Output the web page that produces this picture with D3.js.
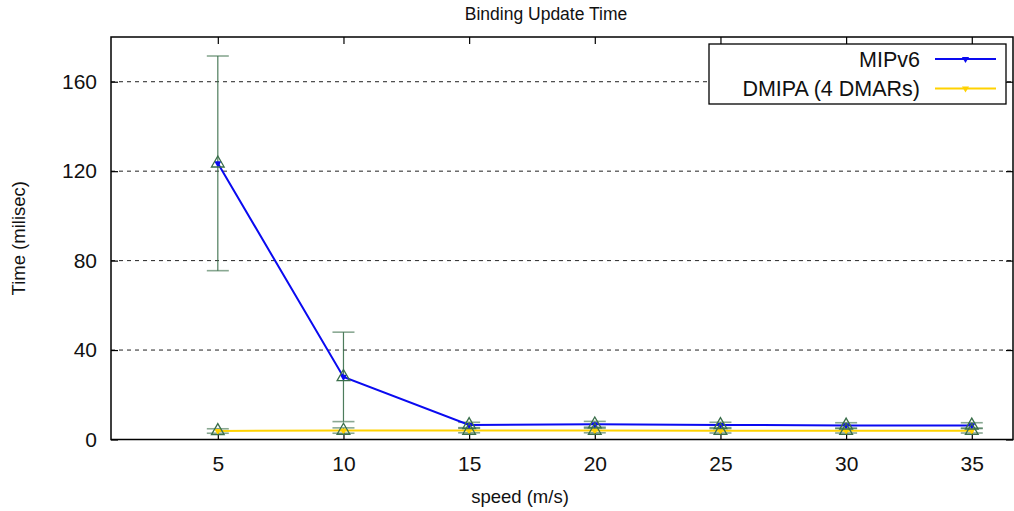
<!DOCTYPE html>
<html>
<head>
<meta charset="utf-8">
<script src="https://cdn.jsdelivr.net/npm/d3@7"></script>
<style>
  html, body { margin: 0; padding: 0; background: #fff; }
  svg { display: block; font-family: "Liberation Sans", Arial, Helvetica, sans-serif; }
</style>
</head>
<body>
<svg id="chart" width="1014" height="511"></svg>
<script>
// Mobile node speed (m/s)
const speeds = [5, 10, 15, 20, 25, 30, 35];
// Mean binding update time (ms) and error bar half-widths
const mipv6 = [123.5, 28, 6.5, 6.8, 6.5, 6.3, 6.3];
const mipv6Err = [48, 20, 1.2, 1.3, 1.2, 1.2, 1.2];
const dmipa = [3.8, 4.0, 4.0, 4.0, 3.9, 3.9, 3.9];
const dmipaErr = [1.0, 1.2, 1.0, 1.0, 1.0, 1.0, 1.0];
const yTicks = [0, 40, 80, 120, 160];
const seriesNames = ["MIPv6", "DMIPA (4 DMARs)"];

const svg = d3.select("#chart");
const m = { left: 111, right: 1013, top: 37, bottom: 439.5 };

const x = d3.scaleLinear().domain([0.75, 36.64]).range([m.left, m.right]);
const y = d3.scaleLinear().domain([0, 180]).range([m.bottom, m.top]);

const errColor = "#3a6e4a";
const series = [
  { name: seriesNames[0], vals: mipv6, err: mipv6Err, color: "#0a0af0" },
  { name: seriesNames[1], vals: dmipa, err: dmipaErr, color: "#ffd200" }
];

const tickFont = 21;
const legendFont = 21.5;
const titleFont = 17.5;
const axisTitleFont = 18.5;

// dashed horizontal grid
svg.append("g").selectAll("line")
  .data(yTicks.filter(d => d > 0))
  .join("line")
  .attr("x1", m.left).attr("x2", m.right)
  .attr("y1", d => y(d)).attr("y2", d => y(d))
  .attr("stroke", "#222").attr("stroke-width", 1)
  .attr("stroke-dasharray", "4,4");

// axes with inward ticks (mirrored on opposite sides)
const axB = svg.append("g").attr("transform", `translate(0,${m.bottom})`)
  .call(d3.axisBottom(x).tickValues(speeds).tickSize(-7).tickPadding(19));
const axT = svg.append("g").attr("transform", `translate(0,${m.top})`)
  .call(d3.axisTop(x).tickValues(speeds).tickSize(-7).tickFormat(""));
const axL = svg.append("g").attr("transform", `translate(${m.left},0)`)
  .call(d3.axisLeft(y).tickValues(yTicks).tickSize(-7).tickPadding(14));
const axR = svg.append("g").attr("transform", `translate(${m.right},0)`)
  .call(d3.axisRight(y).tickValues(yTicks).tickSize(-7).tickFormat(""));
[axB, axT, axL, axR].forEach(g => {
  g.select(".domain").remove();
  g.selectAll(".tick line").attr("stroke", "#000").attr("stroke-width", 1.2);
  g.selectAll("text").attr("font-size", tickFont).attr("fill", "#111")
    .attr("font-family", "'Liberation Sans', Arial, sans-serif");
});
axB.selectAll("text").attr("dy", "0.6em");

// plot frame
svg.append("rect")
  .attr("x", m.left).attr("y", m.top)
  .attr("width", m.right - m.left).attr("height", m.bottom - m.top)
  .attr("fill", "none").attr("stroke", "#000").attr("stroke-width", 1.5);

// error bars
const capW = 11;
series.forEach(s => {
  const g = svg.append("g").attr("stroke", errColor);
  speeds.forEach((sp, i) => {
    const cx = x(sp), lo = y(s.vals[i] - s.err[i]), hi = y(s.vals[i] + s.err[i]);
    g.append("line").attr("x1", cx).attr("x2", cx).attr("y1", lo).attr("y2", hi)
      .attr("stroke-width", 1.2).attr("stroke-opacity", 0.9);
    [lo, hi].forEach(yy => g.append("line")
      .attr("x1", cx - capW).attr("x2", cx + capW).attr("y1", yy).attr("y2", yy)
      .attr("stroke-width", 1.6).attr("stroke-opacity", 0.6));
  });
});

// series lines with small filled down triangles
const line = d3.line().x((d, i) => x(speeds[i])).y(d => y(d));
const downTri = d3.symbol().type(d3.symbolTriangle).size(22);
series.forEach(s => {
  svg.append("path").datum(s.vals)
    .attr("d", line).attr("fill", "none")
    .attr("stroke", s.color).attr("stroke-width", 2);
  svg.append("g").selectAll("path").data(s.vals).join("path")
    .attr("d", downTri)
    .attr("transform", (d, i) => `translate(${x(speeds[i])},${y(d)}) rotate(180)`)
    .attr("fill", s.color);
});

// open up triangles at each mean
const upTri = d3.symbol().type(d3.symbolTriangle).size(70);
series.forEach(s => {
  svg.append("g").selectAll("path").data(s.vals).join("path")
    .attr("d", upTri)
    .attr("transform", (d, i) => `translate(${x(speeds[i])},${y(d)})`)
    .attr("fill", "none").attr("stroke", errColor).attr("stroke-width", 1.3);
});

// titles
svg.append("text").attr("x", 546).attr("y", 20).attr("text-anchor", "middle")
  .attr("font-size", titleFont).attr("fill", "#111").text("Binding Update Time");
svg.append("text").attr("x", 520).attr("y", 503).attr("text-anchor", "middle")
  .attr("font-size", axisTitleFont).attr("fill", "#111").text("speed (m/s)");
svg.append("text")
  .attr("transform", `translate(25,${(m.top + m.bottom) / 2}) rotate(-90)`)
  .attr("text-anchor", "middle").attr("font-size", axisTitleFont).attr("fill", "#111")
  .text("Time (milisec)");

// legend
const lg = svg.append("g");
lg.append("rect").attr("x", 709).attr("y", 44).attr("width", 297).attr("height", 60)
  .attr("fill", "#fff").attr("stroke", "#000").attr("stroke-width", 1.3);
series.forEach((s, i) => {
  const ly = 59 + i * 29.5;
  lg.append("text").attr("x", 920).attr("y", ly + 7.5).attr("text-anchor", "end")
    .attr("font-size", legendFont).attr("fill", "#111").text(s.name);
  lg.append("line").attr("x1", 935).attr("x2", 996).attr("y1", ly).attr("y2", ly)
    .attr("stroke", s.color).attr("stroke-width", 2);
  lg.append("path").attr("d", downTri)
    .attr("transform", `translate(965.5,${ly}) rotate(180)`).attr("fill", s.color);
});
</script>
</body>
</html>
